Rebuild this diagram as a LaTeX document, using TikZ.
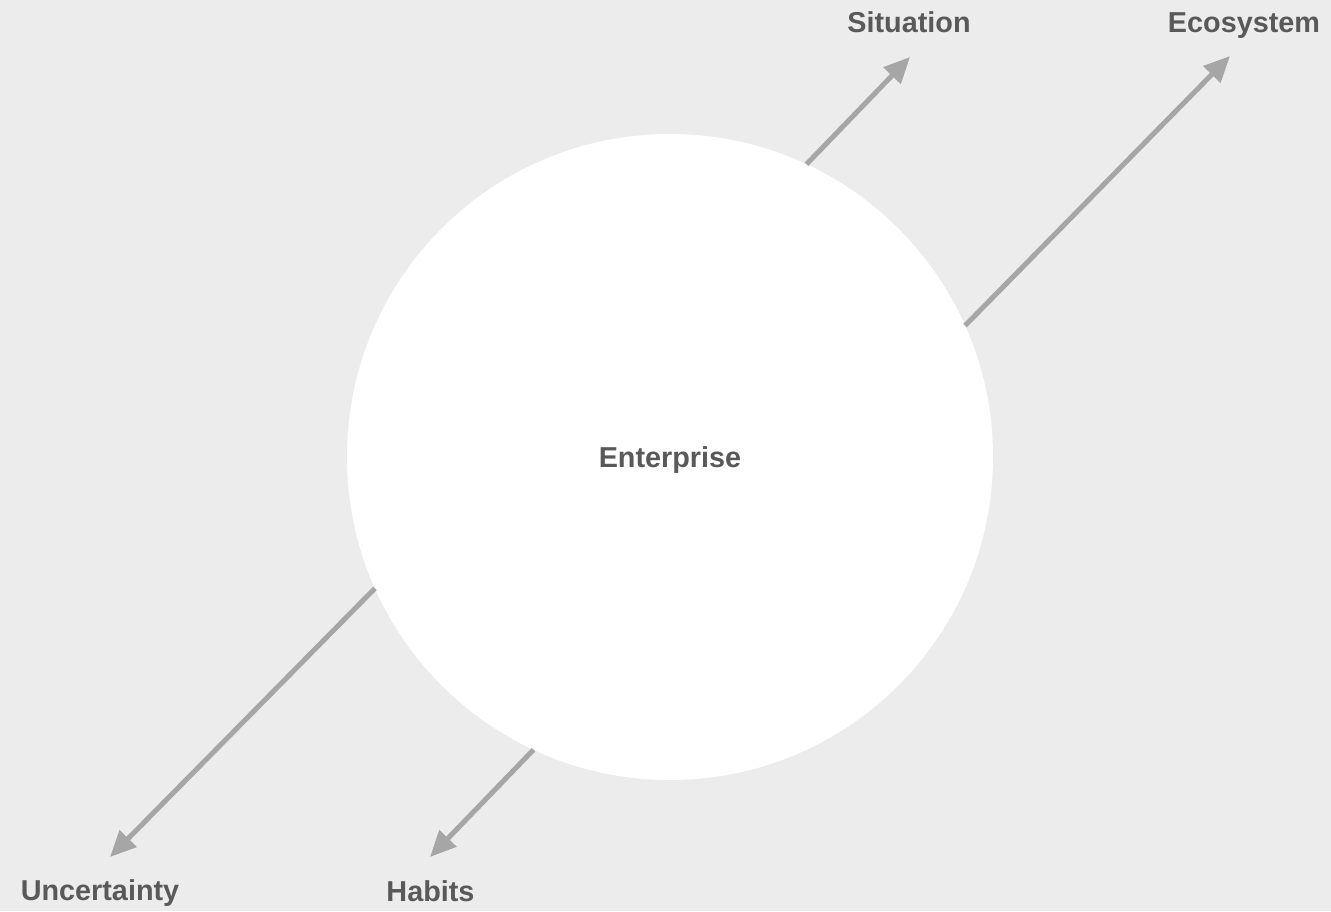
\documentclass[tikz,border=0pt]{standalone}
\usepackage{fontspec}
\setmainfont{Liberation Sans}
\usetikzlibrary{arrows.meta}
\definecolor{bgc}{HTML}{ECECEC}
\definecolor{arrc}{HTML}{A6A6A6}
\definecolor{txtc}{HTML}{595959}
\begin{document}
\begin{tikzpicture}[x=1pt,y=1pt,
  lbl/.style={anchor=base, inner sep=0pt, text=txtc, font=\fontsize{28.8}{34}\selectfont\bfseries},
  conn/.style={draw=arrc, line width=5pt, -{Triangle[length=26pt,width=23pt]}}]
\fill[bgc] (0,0) rectangle (1331,911);
\useasboundingbox (0,0) rectangle (1331,911);
\node[circle, fill=white, minimum size=646pt, inner sep=0pt, outer sep=0pt, text depth=0pt,
      text=txtc, font=\fontsize{28.8}{34}\selectfont\bfseries] (ent) at (670,454) {Enterprise};
\coordinate (tSit) at (910,854);
\coordinate (tEco) at (1230,855);
\coordinate (tUnc) at (110,54);
\coordinate (tHab) at (430,54);
\draw[conn] (ent.65.9) -- (tSit);
\draw[conn] (ent.24.6) -- (tEco);
\draw[conn] (ent.204.5) -- (tUnc);
\draw[conn] (ent.245.5) -- (tHab);
\node[lbl] (sit) at (909,878) {Situation};
\node[lbl] (eco) at (1244,878) {Ecosystem};
\node[lbl] (unc) at (100,11) {Uncertainty};
\node[lbl] (hab) at (430.5,10) {Habits};
\end{tikzpicture}
\end{document}
